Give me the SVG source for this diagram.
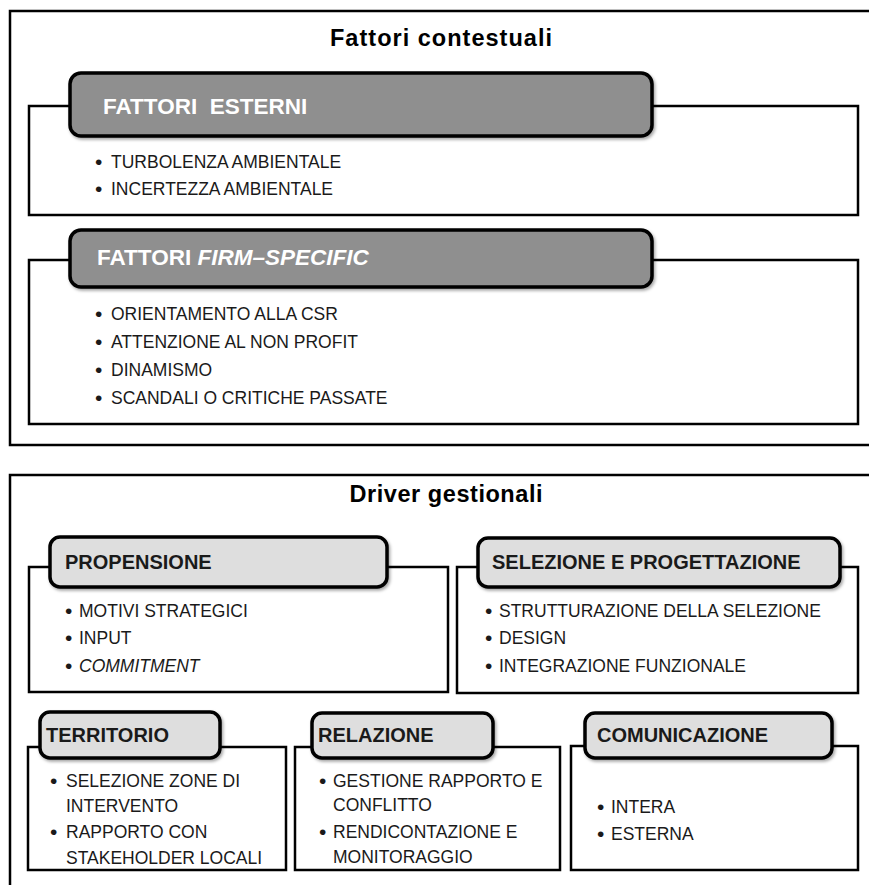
<svg xmlns="http://www.w3.org/2000/svg" width="869" height="885" viewBox="0 0 869 885">
  <style>
    .frame { fill: #ffffff; stroke: #000000; stroke-width: 2.5; }
    .panel { fill: #ffffff; stroke: #000000; stroke-width: 2.5; }
    .hdr-dark { fill: #8f8f8f; stroke: #000000; stroke-width: 3.5; filter: url(#shadow); }
    .hdr-light { fill: #dedede; stroke: #000000; stroke-width: 3.5; filter: url(#shadow); }
    .title { font-family: "Liberation Sans", Arial, sans-serif; font-weight: bold; font-size: 23.5px; fill: #000000; text-anchor: middle; }
    .hdr-dark-txt { font-family: "Liberation Sans", Arial, sans-serif; font-weight: bold; font-size: 22.5px; fill: #ffffff; }
    .hdr-light-txt { font-family: "Liberation Sans", Arial, sans-serif; font-weight: bold; font-size: 20px; fill: #1a1a1a; }
    .item { font-family: "Liberation Sans", Arial, sans-serif; font-size: 17.5px; fill: #1a1a1a; }
    .dot { font-family: "Liberation Sans", Arial, sans-serif; font-size: 21px; fill: #1a1a1a; }
    .it { font-style: italic; }
  </style>
  <defs>
    <filter id="shadow" x="-10%" y="-20%" width="120%" height="150%">
      <feDropShadow dx="1.5" dy="2" stdDeviation="1.8" flood-color="#000000" flood-opacity="0.35"/>
    </filter>
  </defs>

  <rect width="869" height="885" fill="#ffffff"/>

  <!-- upper frame: contextual factors -->
  <g id="fattori-contestuali">
    <rect class="frame" x="10" y="11" width="880" height="434"/>
    <text class="title" x="441" y="46" textLength="222" lengthAdjust="spacing">Fattori contestuali</text>
  </g>

  <g id="fattori-esterni">
    <rect class="panel" x="29" y="106" width="829" height="109"/>
    <rect class="hdr-dark" x="70" y="73" width="582" height="63" rx="11"/>
    <text class="hdr-dark-txt" x="103" y="114">FATTORI&#160; ESTERNI</text>
    <text class="dot" x="95" y="169">•</text>
    <text class="item" x="111" y="168">TURBOLENZA AMBIENTALE</text>
    <text class="dot" x="95" y="196">•</text>
    <text class="item" x="111" y="195">INCERTEZZA AMBIENTALE</text>
  </g>

  <g id="fattori-firm-specific">
    <rect class="panel" x="29" y="260" width="829" height="164"/>
    <rect class="hdr-dark" x="70" y="230" width="582" height="57" rx="11"/>
    <text class="hdr-dark-txt" x="97" y="265">FATTORI <tspan class="it">FIRM–SPECIFIC</tspan></text>
    <text class="dot" x="95" y="321">•</text>
    <text class="item" x="111" y="320">ORIENTAMENTO ALLA CSR</text>
    <text class="dot" x="95" y="349">•</text>
    <text class="item" x="111" y="348">ATTENZIONE AL NON PROFIT</text>
    <text class="dot" x="95" y="377">•</text>
    <text class="item" x="111" y="376">DINAMISMO</text>
    <text class="dot" x="95" y="405">•</text>
    <text class="item" x="111" y="404">SCANDALI O CRITICHE PASSATE</text>
  </g>

  <!-- lower frame: management drivers -->
  <g id="driver-gestionali">
    <rect class="frame" x="10" y="475" width="880" height="450"/>
    <text class="title" x="446" y="502" textLength="193" lengthAdjust="spacing">Driver gestionali</text>
  </g>

  <g id="propensione">
    <rect class="panel" x="29" y="567" width="419" height="125"/>
    <rect class="hdr-light" x="50" y="537" width="337" height="50" rx="10"/>
    <text class="hdr-light-txt" x="65" y="569">PROPENSIONE</text>
    <text class="dot" x="65" y="618">•</text>
    <text class="item" x="79" y="617">MOTIVI STRATEGICI</text>
    <text class="dot" x="65" y="645">•</text>
    <text class="item" x="79" y="644">INPUT</text>
    <text class="dot" x="65" y="673">•</text>
    <text class="item it" x="79" y="672">COMMITMENT</text>
  </g>

  <g id="selezione-progettazione">
    <rect class="panel" x="457" y="567" width="401" height="126"/>
    <rect class="hdr-light" x="478" y="538" width="362" height="49" rx="10"/>
    <text class="hdr-light-txt" x="492" y="569">SELEZIONE E PROGETTAZIONE</text>
    <text class="dot" x="485" y="618">•</text>
    <text class="item" x="499" y="617">STRUTTURAZIONE DELLA SELEZIONE</text>
    <text class="dot" x="485" y="645">•</text>
    <text class="item" x="499" y="644">DESIGN</text>
    <text class="dot" x="485" y="673">•</text>
    <text class="item" x="499" y="672">INTEGRAZIONE FUNZIONALE</text>
  </g>

  <g id="territorio">
    <rect class="panel" x="28" y="747" width="258" height="123"/>
    <rect class="hdr-light" x="40" y="712" width="180" height="46" rx="10"/>
    <text class="hdr-light-txt" x="46" y="742">TERRITORIO</text>
    <text class="dot" x="50" y="788">•</text>
    <text class="item" x="66" y="787">SELEZIONE ZONE DI</text>
    <text class="item" x="66" y="812">INTERVENTO</text>
    <text class="dot" x="50" y="839">•</text>
    <text class="item" x="66" y="838">RAPPORTO CON</text>
    <text class="item" x="66" y="864">STAKEHOLDER LOCALI</text>
  </g>

  <g id="relazione">
    <rect class="panel" x="295" y="747" width="265" height="123"/>
    <rect class="hdr-light" x="312" y="713" width="181" height="45" rx="10"/>
    <text class="hdr-light-txt" x="318" y="742">RELAZIONE</text>
    <text class="dot" x="319" y="788">•</text>
    <text class="item" x="333" y="787">GESTIONE RAPPORTO E</text>
    <text class="item" x="333" y="811">CONFLITTO</text>
    <text class="dot" x="319" y="839">•</text>
    <text class="item" x="333" y="838">RENDICONTAZIONE E</text>
    <text class="item" x="333" y="863">MONITORAGGIO</text>
  </g>

  <g id="comunicazione">
    <rect class="panel" x="571" y="746" width="287" height="124"/>
    <rect class="hdr-light" x="585" y="713" width="247" height="45" rx="10"/>
    <text class="hdr-light-txt" x="597" y="742">COMUNICAZIONE</text>
    <text class="dot" x="597" y="814">•</text>
    <text class="item" x="611" y="813">INTERA</text>
    <text class="dot" x="597" y="841">•</text>
    <text class="item" x="611" y="840">ESTERNA</text>
  </g>
</svg>
